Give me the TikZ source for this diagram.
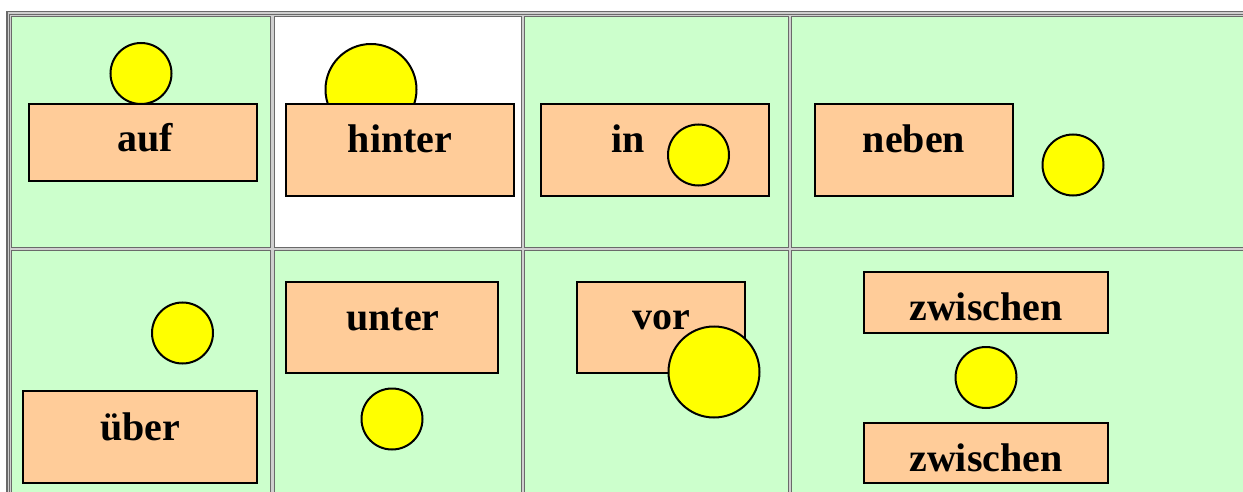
\documentclass[tikz,border=0pt]{standalone}
\usepackage{fontspec}
\setmainfont{Liberation Serif}
\definecolor{cellgreen}{HTML}{CCFFCC}
\definecolor{boxorange}{HTML}{FFCC99}
\definecolor{sunyellow}{HTML}{FFFF00}
\definecolor{gridgray}{HTML}{6A6A6A}
\definecolor{gridlight}{HTML}{CFCFCF}
\tikzset{
  cellbox/.style={fill=cellgreen, draw=gridgray, line width=1.5pt},
  whitecell/.style={fill=white, draw=gridgray, line width=1.5pt},
  wordbox/.style={rectangle, fill=boxorange, draw=black, line width=2.2pt, inner sep=0pt},
  sun/.style={circle, fill=sunyellow, draw=black, line width=2pt, inner sep=0pt},
  word/.style={anchor=base, inner sep=0pt, font=\fontsize{40}{48}\selectfont\bfseries}
}
\begin{document}
\begin{tikzpicture}[x=1pt,y=-1pt]
\useasboundingbox (0,0) rectangle (1243,492);
% table frame
\fill[white] (0,0) rectangle (1243,492);
\fill[gridgray] (6,11) rectangle (1260,510);
\fill[gridlight] (7.5,12.5) rectangle (1260,510);
\draw[gridgray, line width=1.2pt] (9.6,14.6) rectangle (1270,520);
% cells
\draw[cellbox]   (11.5,16.5) rectangle (270.5,247.5);
\draw[whitecell] (274.5,16.5) rectangle (521.5,247.5);
\draw[cellbox]   (524.5,16.5) rectangle (788.5,247.5);
\draw[cellbox]   (791.5,16.5) rectangle (1270,247.5);
\draw[cellbox]   (11.5,250.5) rectangle (270.5,520);
\draw[cellbox]   (274.5,250.5) rectangle (521.5,520);
\draw[cellbox]   (524.5,250.5) rectangle (788.5,520);
\draw[cellbox]   (791.5,250.5) rectangle (1270,520);

% auf
\node[sun, minimum size=61pt] (sunauf) at (141,73.5) {};
\node[wordbox, minimum width=228pt, minimum height=77pt] (boxauf) at (143,142.5) {};
\node[word] (txtauf) at (145,152) {auf};

% hinter
\node[sun, minimum size=91pt] (sunhinter) at (371,89.5) {};
\node[wordbox, minimum width=228pt, minimum height=92pt] (boxhinter) at (400,150) {};
\node[word] (txthinter) at (400,153) {hinter};

% in
\node[wordbox, minimum width=228pt, minimum height=92pt] (boxin) at (655,150) {};
\node[word] (txtin) at (628,152.5) {in};
\node[sun, minimum size=61pt] (sunin) at (698.5,155) {};

% neben
\node[wordbox, minimum width=198pt, minimum height=92pt] (boxneben) at (914,150) {};
\node[word] (txtneben) at (914,153) {neben};
\node[sun, minimum size=61pt] (sunneben) at (1073,165) {};

% über
\node[sun, minimum size=61pt] (sunueber) at (182.5,333) {};
\node[wordbox, minimum width=234pt, minimum height=92pt] (boxueber) at (140,437) {};
\node[word] (txtueber) at (140,440) {über};

% unter
\node[wordbox, minimum width=212pt, minimum height=91pt] (boxunter) at (392,327.5) {};
\node[word] (txtunter) at (393,330) {unter};
\node[sun, minimum size=61pt] (sununter) at (392,419) {};

% vor
\node[wordbox, minimum width=168pt, minimum height=91pt] (boxvor) at (661,327.5) {};
\node[word] (txtvor) at (661,329) {vor};
\node[sun, minimum size=91pt] (sunvor) at (714,372) {};

% zwischen
\node[wordbox, minimum width=244pt, minimum height=61pt] (boxzwa) at (986,302.5) {};
\node[word] (txtzwa) at (986,320) {zwischen};
\node[sun, minimum size=61pt] (sunzw) at (986,377.5) {};
\node[wordbox, minimum width=244pt, minimum height=60pt] (boxzwb) at (986,453) {};
\node[word] (txtzwb) at (986,471) {zwischen};
\end{tikzpicture}
\end{document}
